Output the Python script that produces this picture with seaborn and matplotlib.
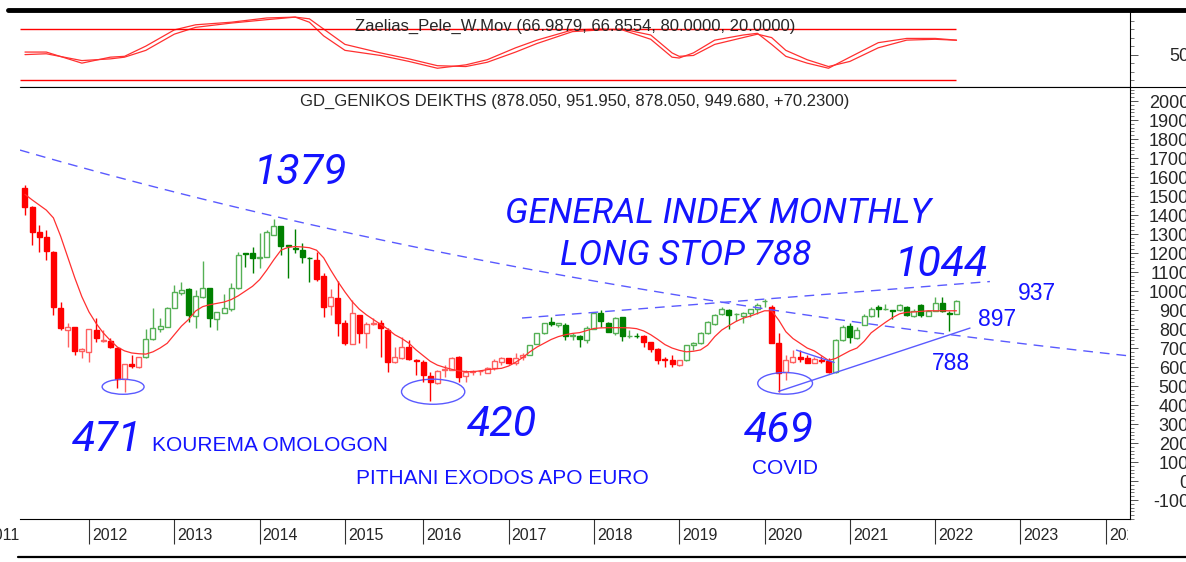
import numpy as np
import pandas as pd
import matplotlib
matplotlib.use("Agg")
import matplotlib.pyplot as plt
import matplotlib.transforms as mtransforms
from matplotlib.patches import Ellipse, Rectangle
from matplotlib.lines import Line2D
from matplotlib.ticker import MultipleLocator
import seaborn as sns

# monthly bars Apr 2011 - Apr 2022, no July 2015 bar (exchange closed)
months = pd.date_range("2011-04-01", "2022-04-01", freq="MS")
months = months[months != pd.Timestamp("2015-07-01")]

opens = [1540, 1444, 1312, 1286, 1204, 912, 795, 809, 686, 681,
         795, 737, 737, 702, 537, 615, 602, 655, 748, 800,
         812, 912, 988, 1009, 870, 970, 1014, 853, 886, 904,
         1014, 1200, 1202, 1172, 1181, 1295, 1342, 1240, 1228, 1216,
         1174, 1163, 1079, 923, 961, 830, 721, 874, 777, 825,
         830, 795, 624, 645, 707, 637, 624, 552, 514, 582,
         584, 654, 552, 575, 578, 570, 593, 628, 645, 619,
         654, 663, 721, 777, 835, 821, 821, 765, 765, 742,
         800, 886, 833, 777, 861, 763, 765, 763, 730, 695,
         640, 637, 610, 637, 716, 724, 777, 826, 879, 900,
         879, 868, 886, 908, 945, 914, 724, 575, 628, 654,
         645, 623, 637, 631, 575, 742, 816, 751, 821, 868,
         914, 903, 898, 900, 917, 868, 926, 868, 896, 938,
         885, 878.05]
highs = [1558, 1450, 1347, 1321, 1210, 944, 830, 812, 702, 800,
         856, 795, 751, 705, 616, 663, 655, 798, 912, 856,
         918, 1032, 1049, 1014, 1005, 1158, 1016, 888, 983, 1040,
         1207, 1202, 1233, 1307, 1321, 1379, 1344, 1242, 1325, 1254,
         1177, 1207, 1097, 1009, 1053, 847, 953, 876, 839, 856,
         847, 803, 707, 759, 742, 640, 637, 575, 584, 610,
         654, 656, 584, 584, 584, 601, 640, 654, 647, 672,
         675, 717, 780, 833, 865, 833, 830, 777, 768, 816,
         891, 900, 838, 865, 862, 795, 777, 768, 733, 698,
         654, 663, 637, 716, 733, 786, 844, 879, 914, 903,
         882, 889, 908, 935, 957, 926, 777, 663, 689, 689,
         663, 654, 659, 645, 745, 821, 830, 812, 879, 917,
         926, 931, 900, 931, 921, 903, 931, 900, 966, 966,
         897, 951.95]
lows = [1400, 1242, 1204, 1163, 874, 795, 707, 663, 646, 628,
        733, 733, 698, 488, 471, 593, 593, 646, 742, 786,
        810, 910, 979, 839, 804, 961, 812, 795, 883, 897,
        1012, 1128, 1097, 1119, 1179, 1293, 1190, 1067, 1198, 1146,
        1049, 1054, 865, 874, 763, 716, 719, 725, 698, 821,
        655, 572, 622, 643, 637, 558, 523, 420, 512, 545,
        582, 523, 523, 558, 558, 566, 584, 610, 615, 610,
        637, 661, 719, 772, 816, 812, 742, 742, 707, 724,
        798, 812, 784, 768, 738, 751, 751, 707, 680, 616,
        601, 598, 608, 633, 689, 721, 773, 821, 873, 798,
        844, 830, 865, 879, 918, 724, 469, 531, 619, 628,
        619, 619, 623, 567, 567, 738, 724, 749, 819, 865,
        865, 900, 851, 896, 868, 865, 865, 866, 894, 891,
        788, 878.05]
closes = [1444, 1312, 1286, 1211, 918, 804, 812, 686, 695, 800,
          751, 742, 704, 537, 616, 606, 651, 746, 804, 814,
          909, 993, 1005, 874, 975, 1014, 856, 888, 909, 1018,
          1190, 1195, 1172, 1177, 1309, 1342, 1237, 1235, 1223, 1177,
          1172, 1063, 918, 967, 834, 725, 883, 781, 825, 830,
          804, 628, 654, 703, 640, 633, 558, 523, 580, 587,
          649, 545, 575, 578, 580, 596, 633, 649, 619, 645,
          663, 716, 777, 830, 828, 833, 765, 766, 747, 803,
          882, 844, 786, 856, 763, 765, 763, 733, 695, 637,
          638, 615, 637, 716, 724, 780, 838, 873, 908, 873,
          880, 886, 903, 926, 947, 724, 570, 637, 654, 642,
          623, 642, 633, 575, 742, 812, 759, 795, 868, 908,
          903, 904, 896, 926, 873, 896, 873, 896, 938, 896,
          879.45, 949.68]
ma_line = [1509, 1480, 1453, 1426, 1385, 1290, 1180, 1070, 970, 890,
           830, 780, 740, 705, 685, 674, 670, 668, 680, 700,
           725, 770, 815, 850, 895, 918, 928, 935, 942, 955,
           975, 1000, 1025, 1060, 1110, 1165, 1215, 1230, 1234, 1232,
           1228, 1215, 1175, 1110, 1050, 995, 945, 905, 875, 850,
           825, 800, 770, 750, 725, 690, 660, 630, 610, 598,
           588, 580, 576, 575, 580, 586, 590, 593, 605, 625,
           650, 680, 705, 725, 745, 760, 770, 777, 781, 792,
           803, 806, 807, 807, 807, 806, 802, 790, 770, 745,
           718, 700, 688, 680, 683, 690, 715, 760, 795, 818,
           840, 857, 868, 882, 896, 896, 847, 786, 750, 725,
           700, 685, 660, 635, 645, 665, 685, 700, 735, 780,
           808, 835, 860, 880, 888, 890, 893, 896, 896, 896,
           896, 896]
# bars where the candle colour flips (starts red)
trend_flips = [17, 41, 71, 87, 93, 105, 114]

# Zaelias_Pele_W.Mov oscillator, read at selected bars
osc_bars = [0, 3, 8, 12, 14, 17, 21, 24, 29, 34, 38, 40, 42, 45, 50, 54, 58, 62, 65, 69,
            72, 77, 81, 84, 88, 91, 92, 94, 97, 101, 103, 105, 107, 110, 113, 116, 120, 124, 128, 131]
osc_fast = [53, 53, 40, 47, 48, 60, 79, 85, 88, 93, 94, 88, 72, 55, 49, 42, 34, 38, 44, 58,
            67, 79, 80, 79, 68, 47, 46, 52, 67, 73, 75, 62, 48, 40, 34, 47, 64, 69, 69, 66.99]
osc_slow = [50, 51, 43, 45, 47, 55, 74, 82, 87, 91, 94, 92, 80, 62, 52, 45, 37, 36, 41, 53,
            63, 77, 79, 80, 73, 52, 48, 49, 62, 70, 74, 70, 55, 44, 36, 42, 58, 67, 68, 66.86]
osc_levels = [80, 20]

# trend lines: (bar, price) end points
long_trend = [(-0.7, 1742), (155.4, 658)]
neck_line = [(69.9, 858), (135.7, 1050)]
stop_line = [(106, 472), (132.9, 805)]
wedge_line = [(108.5, 689), (113.8, 624)]
# circled lows: bar, price, width in bars, height in points
lows_circled = [(13.8, 496, 5.9, 79), (57.4, 470, 8.9, 132), (106.9, 514, 7.7, 114)]

W, H = 1186, 562
RED, PINK = "#ff0000", "#ff6060"
GREEN, LGREEN = "#008000", "#55b055"
BLUE = "#1414ff"
LBLUE = "#5a5aff"


def main():
    sns.set_theme(style="white")
    plt.rcParams["font.family"] = ["Liberation Sans", "DejaVu Sans"]
    plt.rcParams["axes.unicode_minus"] = False

    df = pd.DataFrame({"bar": np.arange(len(closes)), "open": opens, "high": highs,
                       "low": lows, "close": closes, "ma": ma_line})
    up = np.zeros(len(df), dtype=bool)
    for f in trend_flips:
        up[f:] = ~up[f:]
    df["up"] = up
    df["filled"] = df["close"] < df["open"]
    df["body_lo"] = df[["open", "close"]].min(axis=1)
    df["body_hi"] = df[["open", "close"]].max(axis=1)

    fig = plt.figure(figsize=(W / 100, H / 100), dpi=100)
    ax_top = fig.add_axes([20 / W, 1 - 87 / H, 1110 / W, 75 / H])
    ax = fig.add_axes([20 / W, 1 - 519 / H, 1110 / W, 432 / H])
    xlim = (-0.7, 155.4)

    # ---- oscillator panel
    osc = pd.DataFrame({"bar": osc_bars, "fast": osc_fast, "slow": osc_slow})
    sns.lineplot(data=osc, x="bar", y="fast", ax=ax_top, color="#ff3030", lw=0.9)
    sns.lineplot(data=osc, x="bar", y="slow", ax=ax_top, color="#ff3030", lw=0.9)
    ax_top.hlines(osc_levels, xlim[0], len(closes) - 1, color=RED, lw=1)
    ax_top.set_xticks([])
    ax_top.set_xlim(*xlim)
    ax_top.set_ylim(12, 100)
    ax_top.set_xlabel("")
    ax_top.set_ylabel("")
    ax_top.yaxis.tick_right()
    ax_top.set_yticks([50])
    ax_top.yaxis.set_minor_locator(MultipleLocator(10))
    ax_top.text(0.5, 0.81, "Zaelias_Pele_W.Mov (66.9879, 66.8554, 80.0000, 20.0000)",
                transform=ax_top.transAxes, ha="center", va="center", fontsize=12)

    # ---- candles
    for filled in (True, False):
        for is_up in (True, False):
            sub = df[(df["filled"] == filled) & (df["up"] == is_up)]
            if filled:
                col = GREEN if is_up else RED
            else:
                col = LGREEN if is_up else PINK
            ax.vlines(sub["bar"], sub["low"], sub["body_lo"], color=col, lw=1)
            ax.vlines(sub["bar"], sub["body_hi"], sub["high"], color=col, lw=1)
            ax.bar(sub["bar"], sub["body_hi"] - sub["body_lo"], bottom=sub["body_lo"], width=0.7,
                   color=col if filled else "none", edgecolor=col, lw=1)

    sns.lineplot(data=df, x="bar", y="ma", ax=ax, color="#ff3030", lw=0.9)

    # trend lines
    (x0, y0), (x1, y1) = long_trend
    ax.plot(np.linspace(x0, x1, 80), np.geomspace(y0, y1, 80), color=LBLUE, lw=1, dashes=(7, 5))
    (xa, ya), (xb, yb) = neck_line
    ax.plot([xa, xb], [ya, yb], color=LBLUE, lw=1, dashes=(7, 5))
    for (xa, ya), (xb, yb) in [stop_line, wedge_line]:
        ax.plot([xa, xb], [ya, yb], color=LBLUE, lw=1)
    for cx, cy, w, h in lows_circled:
        ax.add_patch(Ellipse((cx, cy), w, h, fill=False, edgecolor=LBLUE, lw=1))

    ax.set_xlabel("")
    ax.set_ylabel("")
    ax.yaxis.tick_right()
    ax.set_yticks(range(-100, 2001, 100))
    ax.yaxis.set_minor_locator(MultipleLocator(20))

    # year ticks at first bar of each year
    year_bars = list(df.index[months.month == 1])
    years = list(months.year[months.month == 1])
    year_bars = year_bars + [year_bars[-1] + 12, year_bars[-1] + 24]
    years = years + [years[-1] + 1, years[-1] + 2]
    ax.set_xticks(year_bars)
    ax.set_xlim(*xlim)
    ax.set_ylim(-200, 2074)
    ax.tick_params(axis="x", direction="out", length=18, width=0.8, color="#333333",
                   labelbottom=False, bottom=True)

    for a in (ax_top, ax):
        for s in ("left", "top"):
            a.spines[s].set_visible(False)
        for s in ("right", "bottom"):
            a.spines[s].set_color("black")
            a.spines[s].set_linewidth(0.8)
        a.tick_params(axis="y", which="major", direction="out", length=6, width=0.7, color="#555555",
                      labelsize=13, pad=36.5, right=True)
        a.tick_params(axis="y", which="minor", direction="out", length=3, width=0.7, color="#777777",
                      right=True, left=False)
        for lab in a.get_yticklabels():
            lab.set_horizontalalignment("right")

    # year labels, clipped to the chart's width like the terminal does
    clip = Rectangle((0, 0), 1128 / W, 60 / H, transform=fig.transFigure, fill=False, visible=False)
    fig.add_artist(clip)
    trans = mtransforms.offset_copy(mtransforms.blended_transform_factory(ax.transData, ax.transAxes),
                                    fig=fig, x=3, y=0, units="dots")
    for b, yr in zip(year_bars, years):
        t = ax.text(b, -0.038, str(yr), transform=trans, ha="left", va="center", fontsize=11.5,
                    clip_on=True)
        t.set_clip_path(clip)
    # the partial first year, pushed against the left edge
    ax.text(0, -0.038, str(years[0] - 1), transform=ax.transAxes, ha="right", va="center",
            fontsize=11.5)

    ax.text(0.5, 0.967, "GD_GENIKOS DEIKTHS (878.050, 951.950, 878.050, 949.680, +70.2300)",
            transform=ax.transAxes, ha="center", va="center", fontsize=12)

    # handwritten style notes
    hand = dict(transform=ax.transAxes, color=BLUE, family=["Roboto", "DejaVu Sans"],
                fontstyle="italic", fontweight="normal", ha="center", va="center")
    ax.text(0.253, 0.801, "1379", fontsize=31, **hand)
    ax.text(0.078, 0.183, "471", fontsize=31, **hand)
    ax.text(0.434, 0.218, "420", fontsize=31, **hand)
    ax.text(0.684, 0.206, "469", fontsize=31, **hand)
    ax.text(0.830, 0.588, "1044", fontsize=31, **hand)
    ax.text(0.629, 0.708, "GENERAL INDEX MONTHLY", fontsize=25.5, **hand)
    ax.text(0.600, 0.611, "LONG STOP 788", fontsize=25.5, **hand)

    plain = dict(transform=ax.transAxes, color=BLUE, va="center")
    ax.text(0.119, 0.171, "KOUREMA OMOLOGON", fontsize=15, ha="left", **plain)
    ax.text(0.435, 0.093, "PITHANI EXODOS APO EURO", fontsize=15, ha="center", **plain)
    ax.text(0.689, 0.118, "COVID", fontsize=15, ha="center", **plain)
    ax.text(0.916, 0.523, "937", fontsize=16.5, ha="center", **plain)
    ax.text(0.880, 0.461, "897", fontsize=16.5, ha="center", **plain)
    ax.text(0.839, 0.361, "788", fontsize=16.5, ha="center", **plain)

    # frame lines of the chart window
    fig.add_artist(Line2D([8 / W, 1], [1 - 10 / H] * 2, color="black", lw=3.5))
    fig.add_artist(Line2D([20 / W, 1], [1 - 87 / H] * 2, color="black", lw=0.8))
    fig.add_artist(Line2D([18 / W, 1], [1 - 557 / H] * 2, color="black", lw=1.6))

    fig.savefig("out.png", dpi=100, facecolor="white")
    plt.close(fig)


if __name__ == "__main__":
    main()
